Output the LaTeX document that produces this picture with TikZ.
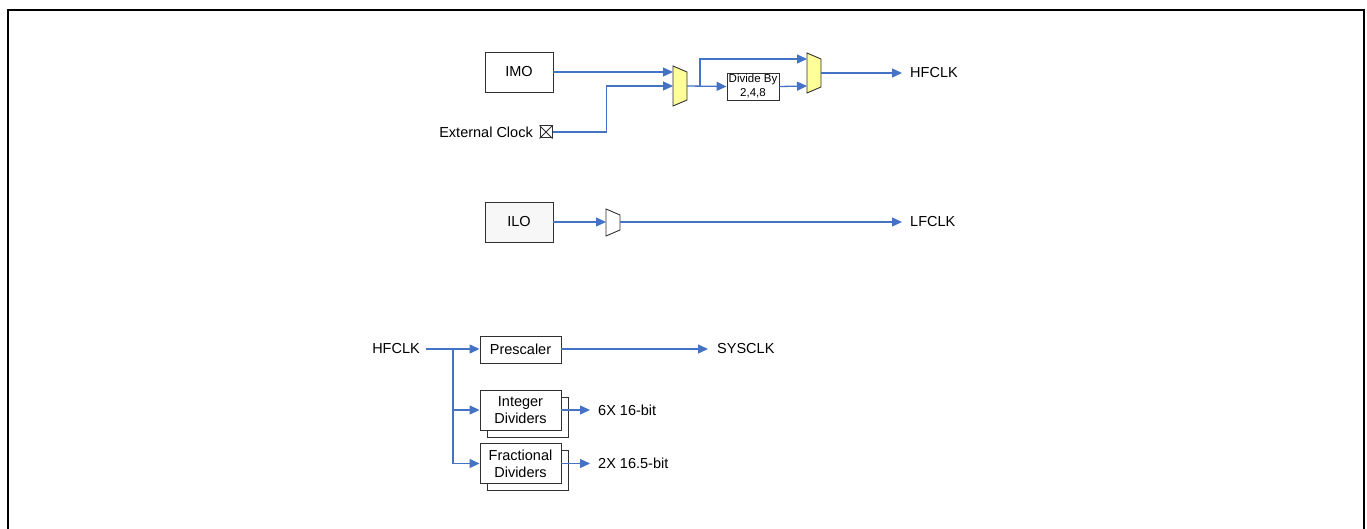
\documentclass[tikz,border=0pt]{standalone}
\usepackage{fontspec}
\setmainfont{Liberation Sans}
\usetikzlibrary{arrows.meta}
\definecolor{sigblue}{HTML}{4472C4}
\definecolor{muxfill}{HTML}{FFFF99}
\definecolor{ilofill}{HTML}{F7F7F7}
\definecolor{edge}{HTML}{303030}
\begin{document}
\begin{tikzpicture}[x=1pt,y=-1pt,
  sig/.style={draw=sigblue,line width=1.3pt,-{Triangle[length=10pt,width=9pt]}},
  blk/.style={draw=edge,line width=0.9pt,fill=white,inner sep=0pt,align=center,
    font=\fontsize{14.5}{17}\selectfont},
  lbl/.style={inner sep=0pt,font=\fontsize{14.5}{17}\selectfont},
  mux/.style={draw=edge,line width=0.9pt,fill=muxfill},
  pmux/.style={draw=edge,line width=0.9pt,fill=white}]
\useasboundingbox (0,0) rectangle (1367,529);
% frame
\draw[line width=2pt] (8,529) -- (8,10) -- (1364,10) -- (1364,529);

% ---------- HFCLK generation ----------
\node[blk,minimum width=68pt,minimum height=40pt] (imo) at (519,72) {IMO};
\node[draw=edge,line width=1pt,minimum size=12pt,inner sep=0pt] (ext) at (546,132) {};
\draw[draw=edge,line width=1pt] (ext.north west) -- (ext.south east) (ext.north east) -- (ext.south west);
\node[lbl,anchor=east] (extl) at (533,132) {External Clock};

% mux 1
\draw[mux] (673,66) -- (687,72) -- (687,100) -- (673,106) -- cycle;
\coordinate (m1in1) at (673,72);
\coordinate (m1in2) at (673,86);
\coordinate (m1out) at (687,86);
% mux 2
\draw[mux] (807,53) -- (821,59) -- (821,87) -- (807,93) -- cycle;
\coordinate (m2in1) at (807,59);
\coordinate (m2in2) at (807,86);
\coordinate (m2out) at (821,73);

\node[blk,minimum width=52pt,minimum height=27pt,font=\fontsize{11.5}{14}\selectfont] (div) at (753,86.5) {Divide By\\2,4,8};

\draw[sig] (imo.east) -- (m1in1);
\draw[sig] (ext.east) -- ++(54,0) |- (m1in2);
\coordinate (br1) at (700,86);
\draw[sig] (m1out) -- (div.west);
\draw[sig] (br1) |- (m2in1);
\draw[sig] (div.east) -- (m2in2);
\coordinate (hfo) at (902,73);
\draw[sig] (m2out) -- (hfo);
\node[lbl,anchor=west] (hfl) at (910,73) {HFCLK};

% ---------- LFCLK ----------
\node[blk,fill=ilofill,minimum width=68pt,minimum height=40pt] (ilo) at (519,222) {ILO};
\draw[pmux] (606,209) -- (620,215) -- (620,230) -- (606,236) -- cycle;
\coordinate (m3in) at (606,222);
\coordinate (m3out) at (620,222);
\draw[sig] (ilo.east) -- (m3in);
\coordinate (lfo) at (902,222);
\draw[sig] (m3out) -- (lfo);
\node[lbl,anchor=west] (lfl) at (910,222) {LFCLK};

% ---------- clock dividers ----------
\node[lbl,anchor=east] (hfin) at (420,349) {HFCLK};
\node[blk,minimum width=81pt,minimum height=27pt] (pre) at (520.5,349.5) {Prescaler};
\node[blk,minimum width=81pt,minimum height=40pt] (intb) at (527.5,417) {};
\node[blk,minimum width=81pt,minimum height=40pt] (intd) at (520.5,410) {Integer\\Dividers};
\node[blk,minimum width=81pt,minimum height=40pt] (frab) at (527.5,470.5) {};
\node[blk,minimum width=81pt,minimum height=40pt] (frac) at (520.5,463.5) {Fractional\\Dividers};

\coordinate (hfs) at (426,349);
\coordinate (br2) at (453,349);
\draw[sig] (hfs) -- (pre.west |- hfs);
\draw[sig] (br2) |- (intd.west);
\draw[sig] (br2) |- (frac.west);

\coordinate (syso) at (708,349);
\draw[sig] (pre.east |- syso) -- (syso);
\node[lbl,anchor=west] (sysl) at (717,349) {SYSCLK};

\coordinate (into) at (590,410);
\draw[sig] (intd.east) -- (into);
\node[lbl,anchor=west] (intl) at (598,410) {6X 16-bit};
\coordinate (frao) at (590,463.5);
\draw[sig] (frac.east) -- (frao);
\node[lbl,anchor=west] (fral) at (598,463.5) {2X 16.5-bit};
\end{tikzpicture}
\end{document}
